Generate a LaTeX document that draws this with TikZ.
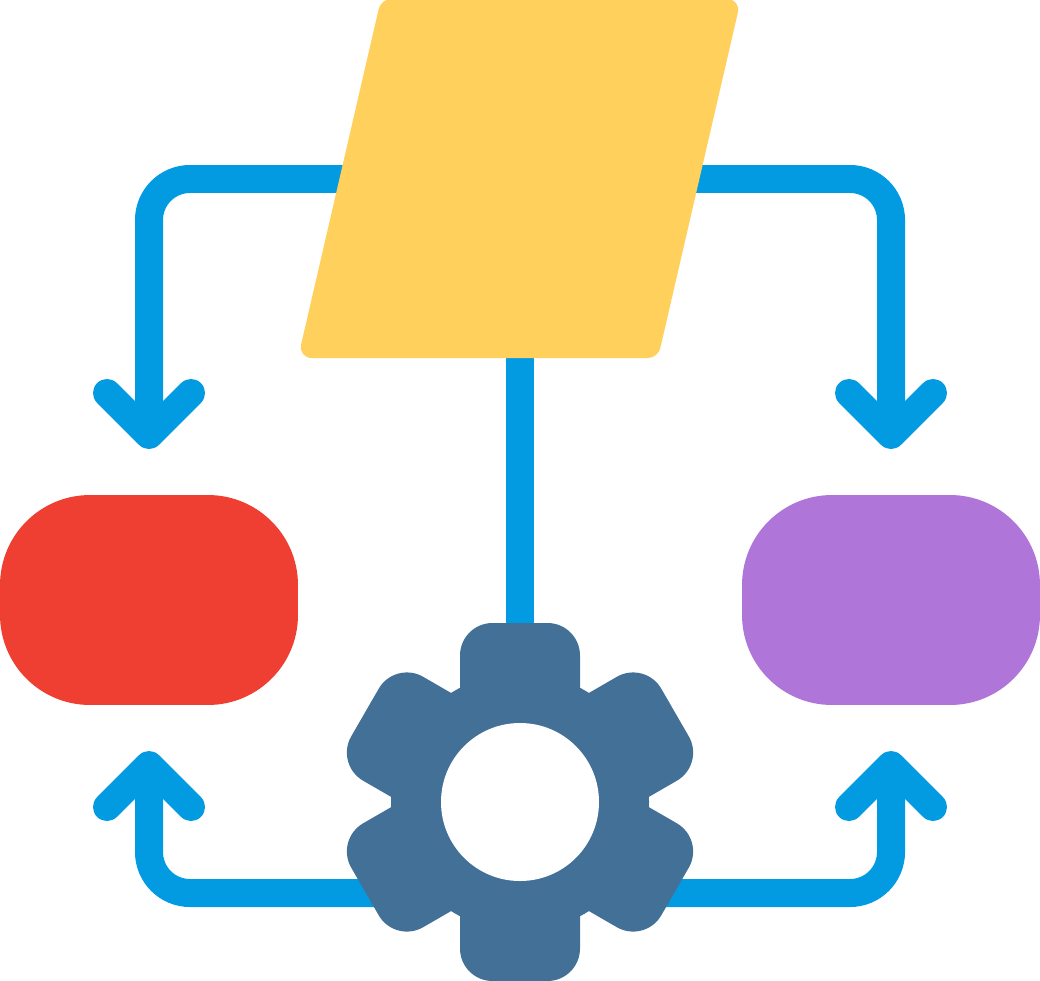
\documentclass[tikz,border=0pt]{standalone}
\usepackage{tikz}
\usetikzlibrary{calc}
\definecolor{sheetyellow}{HTML}{FFD05C}
\definecolor{boxred}{HTML}{EE3F32}
\definecolor{boxpurple}{HTML}{AF75D8}
\definecolor{linkblue}{HTML}{029BE2}
\definecolor{gearblue}{HTML}{437097}
\tikzset{
    link/.style={draw=linkblue,line width=0.56cm,rounded corners=0.82cm},
    tip/.style={draw=linkblue,line width=0.56cm,line cap=round,line join=round},
    pill/.style={minimum width=5.96cm,minimum height=4.2cm,inner sep=0pt,rounded corners=1.8cm}
}
\begin{document}
\begin{tikzpicture}[x=0.02cm,y=-0.02cm]
    \useasboundingbox(0,0)rectangle(1040,980);

    \coordinate(sheettop)at(520,358);
    \coordinate(sheetleft)at(345,179);
    \coordinate(sheetright)at(695,179);
    \coordinate(gearin)at(520,640);
    \coordinate(gearleft)at(380,893);
    \coordinate(gearright)at(660,893);
    \coordinate(tipa)at(149,435);
    \coordinate(tipb)at(891,435);
    \coordinate(tipc)at(149,765);
    \coordinate(tipd)at(891,765);

    % connectors go under the shapes
    \draw[link](sheetleft)-|(tipa);
    \draw[link](sheetright)-|(tipb);
    \draw[link](gearleft)-|(tipc);
    \draw[link](gearright)-|(tipd);
    \draw[link](sheettop)--(gearin);

    \draw[tip]($(tipa)+(-42,-42)$)--(tipa)--($(tipa)+(42,-42)$);
    \draw[tip]($(tipb)+(-42,-42)$)--(tipb)--($(tipb)+(42,-42)$);
    \draw[tip]($(tipc)+(-42,42)$)--(tipc)--($(tipc)+(42,42)$);
    \draw[tip]($(tipd)+(-42,42)$)--(tipd)--($(tipd)+(42,42)$);

    \fill[sheetyellow](450,-1)[rounded corners=0.28cm]--(741,-1)[rounded corners=0.2cm]--(658,358)[rounded corners=0.28cm]--(298,358)[rounded corners=0.2cm]--(381,-1)[sharp corners]--cycle;

    \node[pill,fill=boxred](redbox)at(149,600){};
    \node[pill,fill=boxpurple](purplebox)at(891,600){};

    % gear
    \fill[gearblue](520,802)circle(129);
    \foreach \a in {0,60,...,300}{
        \fill[gearblue,shift={(520,802)},rotate=\a](-60,-114)[rounded corners=0.65cm]--(-60,-179)--(60,-179)[sharp corners]--(60,-114)--cycle;
    }
    \fill[white](520,802)circle(79);
\end{tikzpicture}
\end{document}
